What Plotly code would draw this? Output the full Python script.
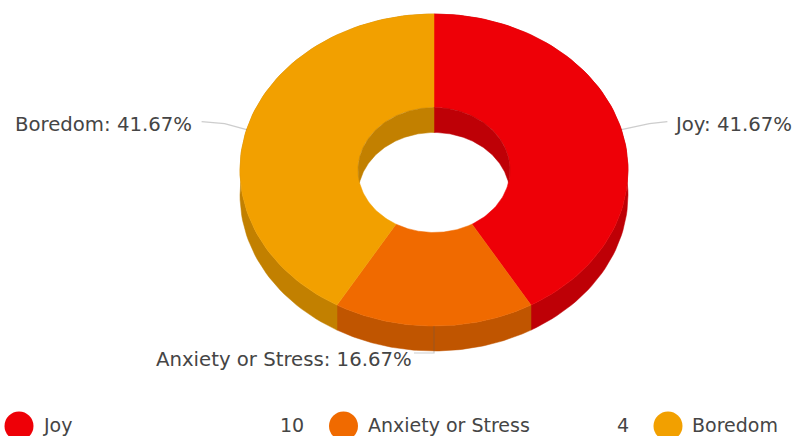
import math
import plotly.graph_objects as go

categories = ["Joy", "Anxiety or Stress", "Boredom"]
values = [10, 4, 10]
top_colors = ["#EE0007", "#F06A00", "#F2A000"]
side_colors = ["#BE0006", "#C05500", "#C28000"]

W, H = 797, 436
CX, CY = 434, 170
RX, RY = 194, 156
HX, HY = 76, 62.5
DEPTH = 25
TEXT = "#454545"
FONT = "DejaVu Sans"
FS = 19.7
LEGEND_FS = 19


def pt(a, rx, ry, dy=0):
    r = math.radians(a)
    return CX + rx * math.sin(r), CY - ry * math.cos(r) + dy


def arc(a0, a1, rx, ry, dy=0, n=80):
    pts = [pt(a0 + (a1 - a0) * i / n, rx, ry, dy) for i in range(n + 1)]
    return [p[0] for p in pts], [p[1] for p in pts]


def poly(xs, ys, color, name):
    return go.Scatter(x=xs + xs[:1], y=ys + ys[:1], mode="lines", fill="toself",
                      fillcolor=color, line=dict(color=color, width=0.5),
                      hoverinfo="text", text=name, showlegend=False)


total = sum(values)
spans = []
acc = 0
for v in values:
    spans.append((acc / total * 360, (acc + v) / total * 360))
    acc += v

fig = go.Figure()

# outer walls
for (a0, a1), c, n in zip(spans, side_colors, categories):
    x1, y1 = arc(a0, a1, RX, RY)
    x2, y2 = arc(a1, a0, RX, RY, DEPTH)
    fig.add_trace(poly(x1 + x2, y1 + y2, c, n))

# top faces
for (a0, a1), c, n in zip(spans, top_colors, categories):
    x1, y1 = arc(a0, a1, RX, RY)
    x2, y2 = arc(a1, a0, HX, HY)
    fig.add_trace(poly(x1 + x2, y1 + y2, c, n))

# visible inner wall: crescent between hole rim and the rim shifted down
off = DEPTH / 2 / HY
tip_rim = math.degrees(math.acos(-off))
tip_low = math.degrees(math.acos(off))
for (a0, a1), c, n in zip(spans, side_colors, categories):
    if a0 < tip_rim:  # right side
        e = min(a1, tip_rim)
        f = min(a1, tip_low)
        x1, y1 = arc(a0, e, HX, HY)
        x2, y2 = arc(f, a0, HX, HY, DEPTH)
        fig.add_trace(poly(x1 + x2, y1 + y2, c, n))
    if a1 > 360 - tip_rim:  # left side
        e = max(a0, 360 - tip_rim)
        f = max(a0, 360 - tip_low)
        x1, y1 = arc(a1, e, HX, HY)
        x2, y2 = arc(f, a1, HX, HY, DEPTH)
        fig.add_trace(poly(x1 + x2, y1 + y2, c, n))

# leader lines and labels
annotations = []
for (a0, a1), n, v in zip(spans, categories, values):
    mid = (a0 + a1) / 2
    x0, y0 = pt(mid, RX, RY)
    label = f"{n}: {v / total * 100:.2f}%"
    if 30 < mid < 150:
        lx, ly = [x0, x0 + 28, x0 + 46], [y0, y0 - 6, y0 - 8]
        ax, ay, anchor = lx[-1] + 5, ly[-1] + 3, "left"
    elif 210 < mid < 330:
        lx, ly = [x0, x0 - 22, x0 - 45], [y0, y0 - 6, y0 - 8]
        ax, ay, anchor = lx[-1] - 8, ly[-1] + 3, "right"
    else:
        lx, ly = [x0, x0, x0 - 20], [y0, y0 + 27, y0 + 27]
        ax, ay, anchor = lx[-1] + 0, ly[-1] + 6, "right"
    fig.add_trace(go.Scatter(x=lx, y=ly, mode="lines", hoverinfo="skip", showlegend=False,
                             line=dict(color="rgba(90,90,90,0.3)", width=1.2)))
    annotations.append(dict(x=ax, y=ay, text=label, showarrow=False, xanchor=anchor,
                            yanchor="middle", font=dict(family=FONT, size=FS, color=TEXT)))

# legend row: the third value falls beyond the right edge of the page
STEP = 324.5
for i, (n, v, c) in enumerate(zip(categories, values, top_colors)):
    mx = 19 + STEP * i
    fig.add_trace(go.Scatter(x=[mx], y=[426], mode="markers", hoverinfo="skip", showlegend=False,
                             marker=dict(size=29, color=c, line=dict(width=0))))
    annotations.append(dict(x=mx + 22, y=425, text=n, showarrow=False, xanchor="left", yanchor="middle",
                            font=dict(family=FONT, size=LEGEND_FS, color=TEXT)))
    if mx + 287 < W:
        annotations.append(dict(x=mx + 287, y=425, text=str(v), showarrow=False, xanchor="right",
                                yanchor="middle", font=dict(family=FONT, size=LEGEND_FS, color=TEXT)))

fig.update_layout(
    width=W, height=H, autosize=False, margin=dict(l=0, r=0, t=0, b=0),
    paper_bgcolor="white", plot_bgcolor="white", showlegend=False,
    xaxis=dict(range=[0, W], visible=False, fixedrange=True),
    yaxis=dict(range=[H, 0], visible=False, fixedrange=True),
    annotations=annotations,
)
fig.write_html("out.html", config=dict(displayModeBar=False),
               post_script="document.body.style.margin='0';document.documentElement.style.overflow='hidden';")
